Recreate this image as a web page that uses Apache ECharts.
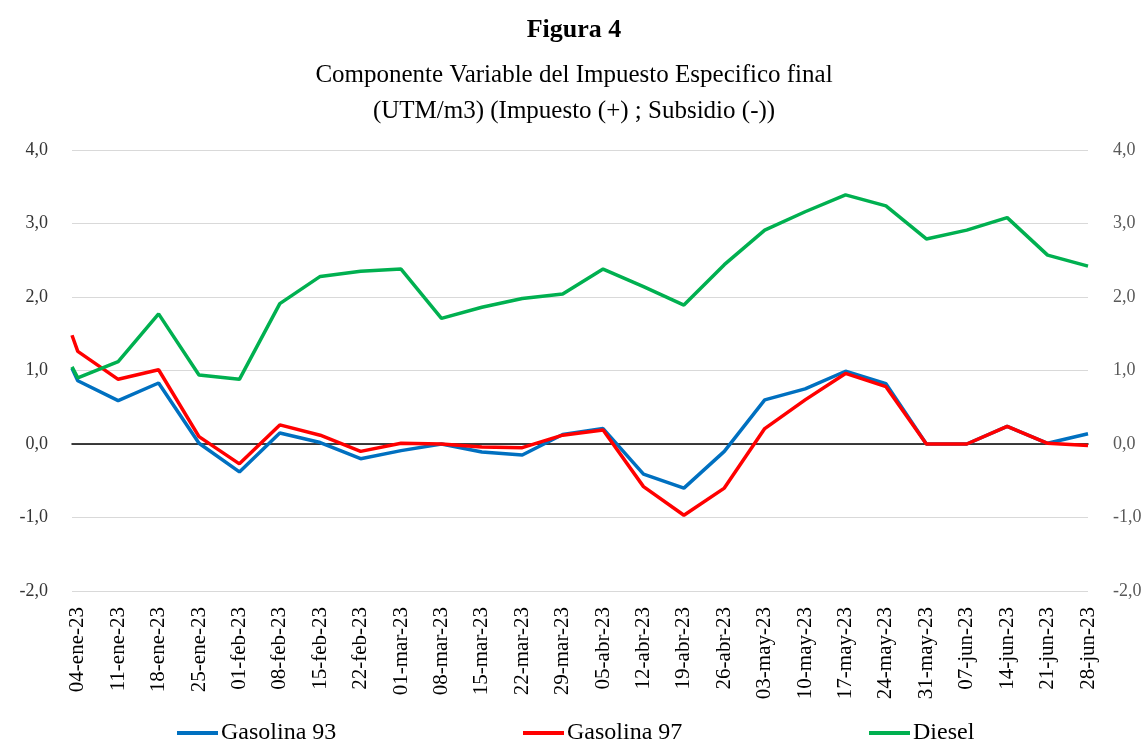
<!DOCTYPE html>
<html>
<head>
<meta charset="utf-8">
<script src="https://cdn.jsdelivr.net/npm/echarts@6/dist/echarts.min.js"></script>
<style>
html,body{margin:0;padding:0;background:#fff;}
#chart{width:1148px;height:743px;}
</style>
</head>
<body>
<div id="chart"></div>
<script>
// Dates of data points (first point is 03-ene-23, then weekly)
const pointDates = ['03-ene-23','04-ene-23','11-ene-23','18-ene-23','25-ene-23','01-feb-23','08-feb-23','15-feb-23','22-feb-23','01-mar-23','08-mar-23','15-mar-23','22-mar-23','29-mar-23','05-abr-23','12-abr-23','19-abr-23','26-abr-23','03-may-23','10-may-23','17-may-23','24-may-23','31-may-23','07-jun-23','14-jun-23','21-jun-23','28-jun-23'];
// Tick labels on the date axis
const tickLabels = ['04-ene-23','11-ene-23','18-ene-23','25-ene-23','01-feb-23','08-feb-23','15-feb-23','22-feb-23','01-mar-23','08-mar-23','15-mar-23','22-mar-23','29-mar-23','05-abr-23','12-abr-23','19-abr-23','26-abr-23','03-may-23','10-may-23','17-may-23','24-may-23','31-may-23','07-jun-23','14-jun-23','21-jun-23','28-jun-23'];
const gasolina93 = [1.03,0.86,0.59,0.83,0.01,-0.38,0.15,0.02,-0.20,-0.09,0.00,-0.11,-0.15,0.13,0.21,-0.41,-0.60,-0.10,0.60,0.75,0.99,0.82,0.00,0.00,0.24,0.01,0.14];
const gasolina97 = [1.48,1.26,0.88,1.01,0.10,-0.27,0.26,0.12,-0.10,0.01,0.00,-0.04,-0.05,0.12,0.19,-0.58,-0.97,-0.60,0.21,0.60,0.96,0.78,0.00,0.00,0.24,0.01,-0.02];
const diesel = [1.05,0.90,1.12,1.77,0.94,0.88,1.91,2.28,2.35,2.38,1.71,1.86,1.98,2.04,2.38,2.14,1.89,2.44,2.91,3.16,3.39,3.24,2.79,2.91,3.08,2.57,2.42];
const yTicks = [-2,-1,0,1,2,3,4];
const axisStart = '03-ene-23';
const axisEnd = '28-jun-23';

const months = {ene:0,feb:1,mar:2,abr:3,may:4,jun:5,jul:6,ago:7,sep:8,oct:9,nov:10,dic:11};
function toDay(s){
  const p = s.split('-');
  const t = Date.UTC(2000+parseInt(p[2],10), months[p[1]], parseInt(p[0],10));
  const p0 = axisStart.split('-');
  const t0 = Date.UTC(2000+parseInt(p0[2],10), months[p0[1]], parseInt(p0[0],10));
  return Math.round((t-t0)/86400000);
}
const pointDays = pointDates.map(toDay);
const tickDays = tickLabels.map(toDay);
const dayToLabel = {};
tickDays.forEach((d,i)=>{dayToLabel[d]=tickLabels[i];});
const pairs = arr => arr.map((v,i)=>[pointDays[i], v]);
const fmtY = v => v.toFixed(1).replace('.', ',');

const FONT = '"Liberation Serif", "Times New Roman", serif';
const chart = echarts.init(document.getElementById('chart'), null, {renderer:'canvas'});
const lineSeries = (name, data, color) => ({
  name, type:'line', data: pairs(data), xAxisIndex:0, yAxisIndex:0,
  symbol:'none', smooth:false, lineStyle:{width:3.5,color}, itemStyle:{color},
  emphasis:{disabled:true}, animation:false
});
const legendItem = (name, left) => ({
  data:[name], left, top:716, itemWidth:41, itemHeight:4, itemGap:0,
  icon:'rect', textStyle:{fontFamily:FONT, fontSize:24, color:'#000', padding:[0,0,0,-2]},
  selectedMode:false
});
chart.setOption({
  backgroundColor:'#fff',
  animation:false,
  title:[
    {text:'Figura 4', left:'center', top:12, textStyle:{fontFamily:FONT, fontSize:26, fontWeight:'bold', color:'#000'}},
    {text:'Componente Variable del Impuesto Especifico final\n(UTM/m3) (Impuesto (+) ; Subsidio (-))', left:'center', top:52,
     textStyle:{fontFamily:FONT, fontSize:25, fontWeight:'normal', color:'#000', lineHeight:36}}
  ],
  legend:[
    legendItem('Gasolina 93', 172),
    legendItem('Gasolina 97', 518),
    legendItem('Diesel', 864)
  ],
  grid:{left:72, right:60, top:150, bottom:152, containLabel:false},
  xAxis:[
    {type:'value', min:toDay(axisStart), max:toDay(axisEnd), position:'bottom',
     axisLine:{show:false, onZero:false}, axisTick:{show:false}, splitLine:{show:false},
     axisLabel:{customValues:tickDays, rotate:90, margin:16, fontFamily:FONT, fontSize:21, color:'#000',
       formatter:v=>dayToLabel[v]||''}},
    {type:'value', min:toDay(axisStart), max:toDay(axisEnd), position:'top',
     axisLine:{show:true, onZero:true, lineStyle:{color:'#000', width:1.5}},
     axisTick:{show:false}, axisLabel:{show:false}, splitLine:{show:false}}
  ],
  yAxis:[
    {type:'value', min:yTicks[0], max:yTicks[yTicks.length-1], interval:1, position:'left',
     axisLine:{show:false}, axisTick:{show:false},
     splitLine:{show:true, lineStyle:{color:'#d9d9d9', width:1}},
     axisLabel:{margin:24, fontFamily:FONT, fontSize:18, color:'#333', formatter:fmtY}},
    {type:'value', min:yTicks[0], max:yTicks[yTicks.length-1], interval:1, position:'right',
     axisLine:{show:false}, axisTick:{show:false}, splitLine:{show:false},
     axisLabel:{margin:25, fontFamily:FONT, fontSize:18, color:'#595959', formatter:fmtY}}
  ],
  series:[
    lineSeries('Gasolina 93', gasolina93, '#0070C0'),
    lineSeries('Gasolina 97', gasolina97, '#FF0000'),
    lineSeries('Diesel', diesel, '#00B050')
  ]
});
</script>
</body>
</html>
